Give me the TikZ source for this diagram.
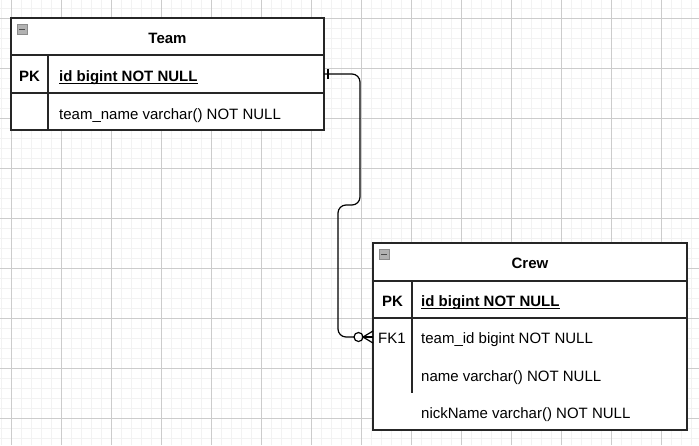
\documentclass[tikz,border=0pt]{standalone}
\usepackage{fontspec}
\setmainfont{Liberation Sans}
\usetikzlibrary{positioning}
\tikzset{every node/.append style={font=\fontsize{15}{18}\selectfont}}
\tikzset{tbl/.style={line width=1.2pt, draw=black!85}}
\tikzset{fld/.style={anchor=base west, inner sep=0pt}}
\tikzset{key/.style={anchor=base, inner sep=0pt}}
\tikzset{mini/.style={fill=black!30, draw=black!45, line width=0.6pt}}

\begin{document}
\begin{tikzpicture}[x=1pt, y=-1pt]
  \useasboundingbox (0,0) rectangle (699,445);
  \fill[white] (0,0) rectangle (699,445);

  % grid
  \foreach \x in {1,11,...,691}{
               \draw[black!5, line width=0.5pt] (\x,0)--(\x,445);
  };
  \foreach \y in {8,18,...,438}{
               \draw[black!5, line width=0.5pt] (0,\y)--(699,\y);
  };
  \foreach \x in {11,61,...,661}{
               \draw[black!20, line width=0.6pt] (\x,0)--(\x,445);
  };
  \foreach \y in {18,68,...,418}{
               \draw[black!20, line width=0.6pt] (0,\y)--(699,\y);
  };

  % Team
  \fill[white] (11,18) rectangle (324,130);
  \draw[tbl] (11,18) rectangle (324,130);
  \draw[tbl] (11,55)--(324,55);
  \draw[tbl] (11,93)--(324,93);
  \draw[tbl] (48,55)--(48,130);
  \draw[mini] (17,24) rectangle (27,34);
  \draw[black!70, line width=1pt] (19,29)--(25,29);
  \node[key] (teamHead) at (167.5,43) {\bfseries Team};
  \node[key] (teamPk) at (29.5,81) {\bfseries PK};
  \node[fld] (teamId) at (59,81) {\bfseries id bigint NOT NULL};
  \draw[line width=1.3pt] ([yshift=-2.5pt]teamId.base west)--([yshift=-2.5pt]teamId.base east);
  \node[fld] (teamName) at (59,119) {team\_name varchar() NOT NULL};
  \coordinate (teamOut) at (324,74);

  % Crew
  \fill[white] (373,243) rectangle (687,430);
  \draw[tbl] (373,243) rectangle (687,430);
  \draw[tbl] (373,281)--(687,281);
  \draw[tbl] (373,318)--(687,318);
  \draw[tbl] (412,281)--(412,393);
  \draw[mini] (379,249) rectangle (389,259);
  \draw[black!70, line width=1pt] (381,254)--(387,254);
  \node[key] (crewHead) at (530,268) {\bfseries Crew};
  \node[key] (crewPk) at (392.5,306) {\bfseries PK};
  \node[fld] (crewId) at (421,306) {\bfseries id bigint NOT NULL};
  \draw[line width=1.3pt] ([yshift=-2.5pt]crewId.base west)--([yshift=-2.5pt]crewId.base east);
  \node[key] (crewFk) at (392,343) {FK1};
  \node[fld] (crewTeamId) at (421,343) {team\_id bigint NOT NULL};
  \node[fld] (crewName) at (421,381) {name varchar() NOT NULL};
  \node[fld] (crewNick) at (421,418) {nickName varchar() NOT NULL};
  \coordinate (crewIn) at (373,337);

  % relation
  \draw[line width=1.2pt, rounded corners=8pt] (teamOut) -- (360,74) -- (360,205) -- (338,205) -- (338,337) -- (354,337);
  \draw[line width=1.2pt] (328,69)--(328,79);
  \draw[line width=1.2pt] (358.5,337) circle (4.5);
  \draw[line width=1.2pt] (363,337)--(crewIn);
  \draw[line width=1.2pt] (363,337)--(373,331);
  \draw[line width=1.2pt] (363,337)--(373,343);
\end{tikzpicture}
\end{document}
